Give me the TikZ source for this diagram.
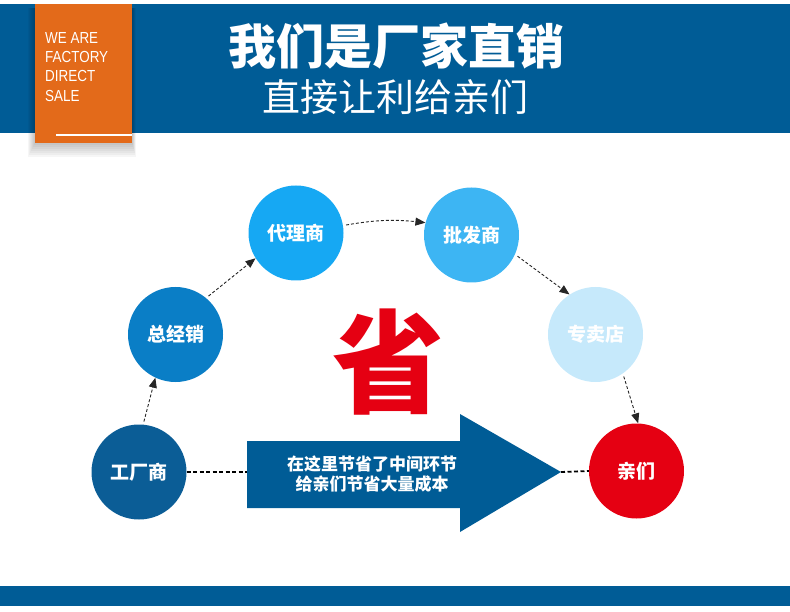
\documentclass[tikz,border=0pt]{standalone}
\usepackage{fontspec}
\setmainfont{Liberation Sans}
\newfontfamily\cjk{Noto Sans CJK SC}
\newfontfamily\narrowfont[FakeStretch=0.84]{Liberation Sans}
\usetikzlibrary{arrows.meta,positioning}
\definecolor{bandblue}{RGB}{0,92,150}
\definecolor{taborange}{RGB}{227,106,26}
\definecolor{factblue}{RGB}{11,93,150}
\definecolor{distblue}{RGB}{10,126,198}
\definecolor{agentblue}{RGB}{22,168,243}
\definecolor{wholeblue}{RGB}{61,181,243}
\definecolor{shopblue}{RGB}{198,233,251}
\definecolor{savered}{RGB}{229,0,18}

\begin{document}
\begin{tikzpicture}[x=1pt, y=-1pt,
  stage/.style={circle, minimum size=95pt, inner sep=0pt, text=white,
                font=\cjk\bfseries\fontsize{19}{21}\selectfont},
  flow/.style={-{Triangle[length=10pt,width=8pt]}, line width=0.9pt,
               dash pattern=on 3pt off 2pt, black!85, shorten <=3pt},
  link/.style={line width=1.8pt, dash pattern=on 4pt off 2.5pt, black}
]
\useasboundingbox (0,0) rectangle (790,612);

%% ---------- HEADER ----------
\fill[bandblue] (0,4) rectangle (790,133);
% soft shadow of the tab
\foreach \s in {2,4,...,14}
  \fill[black, opacity=0.035] (35-\s/2,8) rectangle (132+\s/4,143+\s);
\fill[taborange] (35,4) rectangle (132,143);
\draw[white, line width=2.5pt] (56,135) -- (132,135);
\node[anchor=north west, align=left, text=white, inner sep=0pt,
      font=\narrowfont\fontsize{16}{19.3}\selectfont]
     (tag) at (45,32) {WE ARE\\FACTORY\\DIRECT\\SALE};
\node[text=white, font=\cjk\bfseries\fontsize{48}{52}\selectfont]
     (title) at (396.5,46) {我们是厂家直销};
\node[text=white, font=\cjk\fontsize{38}{42}\selectfont]
     (subtitle) at (395,97) {直接让利给亲们};

%% ---------- STAGES ----------
\node[stage, fill=factblue]  (fact)  at (139,472)   {工厂商};
\node[stage, fill=distblue]  (dist)  at (175.5,334.5) {总经销};
\node[stage, fill=agentblue] (agent) at (296,233)   {代理商};
\node[stage, fill=wholeblue] (whole) at (471.5,235) {批发商};
\node[stage, fill=shopblue]  (shop)  at (595.5,334.5) {专卖店};
\node[stage, fill=savered]   (kin)   at (636.5,471) {亲们};

%% ---------- CHAIN ----------
\draw[flow] (fact.85)   -- (dist.245);
\draw[flow] (dist.50)   -- (agent.212);
\draw[flow] (agent.9)   to[bend left=8] (whole.165);
\draw[flow] (whole.336) -- (shop.123);
\draw[flow] (shop.305)  -- (kin.88);

%% ---------- SHORTCUT ARROW ----------
\coordinate (tail) at (247,472);
\coordinate (tip)  at (561,472);
\fill[bandblue] (247,441) -- (460,441) -- (460,414) -- (tip)
  -- (460,532) -- (460,508) -- (247,508) -- cycle;
\node[text=white, align=center, font=\cjk\bfseries\fontsize{17}{20}\selectfont]
     (savetxt) at (372,474) {在这里节省了中间环节\\给亲们节省大量成本};
\draw[link] (fact.east) -- (tail);
\draw[link] (tip) -- (kin.west);

\node[text=savered, font=\cjk\bfseries\fontsize{112}{120}\selectfont]
     (save) at (388,362) {省};

%% ---------- FOOTER ----------
\fill[bandblue] (0,586) rectangle (790,606);

\end{tikzpicture}
\end{document}
